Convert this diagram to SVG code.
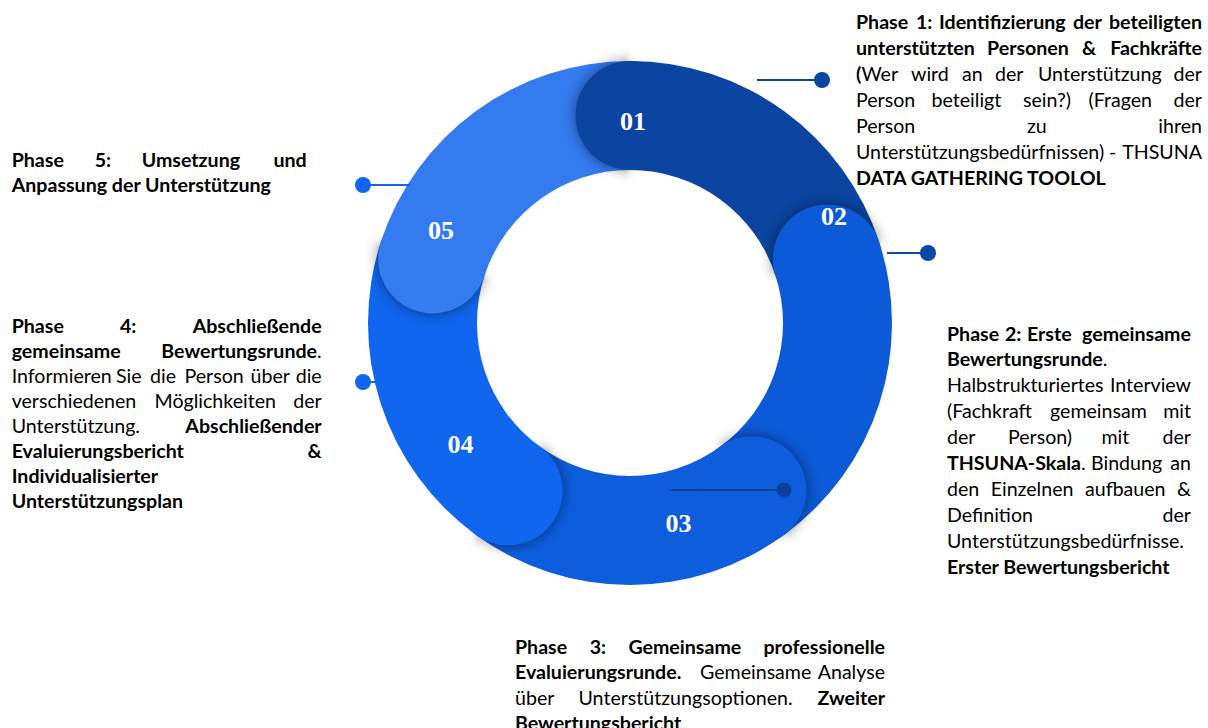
<svg xmlns="http://www.w3.org/2000/svg" width="1208" height="728" viewBox="0 0 1208 728">
<style>
.t{font-family:Lato,"Liberation Sans",sans-serif;font-size:19.6px;fill:#000}
.b{font-weight:700}
.e{text-anchor:end}
.num{font-family:"Liberation Serif","Times New Roman",serif;font-weight:700;font-size:26px;fill:#fff;text-anchor:middle}
.sh{fill:#000;opacity:.42;filter:url(#blur)}
.mk{fill:#fff;filter:url(#mb)}
</style>
<defs>
<filter id="blur" x="-50%" y="-50%" width="200%" height="200%"><feGaussianBlur stdDeviation="6.5"/></filter>
<filter id="mb" x="-20%" y="-20%" width="140%" height="140%"><feGaussianBlur stdDeviation="3"/></filter>
<mask id="m1" maskUnits="userSpaceOnUse" x="0" y="0" width="1208" height="728"><rect class="mk" x="0" y="-320" width="420" height="320" transform="translate(630,323) rotate(-90)"/></mask>
<mask id="m2" maskUnits="userSpaceOnUse" x="0" y="0" width="1208" height="728"><rect class="mk" x="0" y="-320" width="420" height="320" transform="translate(630,323) rotate(-18)"/></mask>
<mask id="m3" maskUnits="userSpaceOnUse" x="0" y="0" width="1208" height="728"><rect class="mk" x="0" y="-320" width="420" height="320" transform="translate(630,323) rotate(54)"/></mask>
<mask id="m4" maskUnits="userSpaceOnUse" x="0" y="0" width="1208" height="728"><rect class="mk" x="0" y="-320" width="420" height="320" transform="translate(630,323) rotate(126)"/></mask>
<mask id="m5" maskUnits="userSpaceOnUse" x="0" y="0" width="1208" height="728"><rect class="mk" x="0" y="-320" width="420" height="320" transform="translate(630,323) rotate(198)"/></mask>
<clipPath id="clip4"><rect x="0" y="300" width="340" height="211"/></clipPath>
</defs>

<g id="ring">
<path d="M630,61 A262,262 0 0 1 879.18,242.04 L775.51,275.72 A153,153 0 0 0 630,170 Z" fill="#0B45A1"/>
<path d="M879.18,242.04 A262,262 0 0 1 784,534.96 L719.93,446.78 A153,153 0 0 0 775.51,275.72 Z" fill="#0C5AD7"/>
<path d="M784,534.96 A262,262 0 0 1 476,534.96 L540.07,446.78 A153,153 0 0 0 719.93,446.78 Z" fill="#0D5DDC"/>
<path d="M476,534.96 A262,262 0 0 1 380.82,242.04 L484.49,275.72 A153,153 0 0 0 540.07,446.78 Z" fill="#1066EE"/>
<path d="M380.82,242.04 A262,262 0 0 1 630,61 L630,170 A153,153 0 0 0 484.49,275.72 Z" fill="#347BF0"/>
</g>

<g id="node-01">
<g mask="url(#m1)"><circle class="sh" cx="630" cy="115.5" r="55"/></g>
<circle cx="630" cy="115.5" r="54.5" fill="#0B45A1"/>
<text class="num" x="633" y="130">01</text>
<text class="t b" y="28.5"><tspan x="856">Phase</tspan><tspan x="916">1:</tspan><tspan x="939">Identifizierung</tspan><tspan x="1073">der</tspan></text>
<text class="t b e" x="1202" y="28.5">beteiligten</text>
<text class="t b" y="54.6"><tspan x="856">unterstützten</tspan><tspan x="987">Personen</tspan><tspan x="1082">&amp;</tspan></text>
<text class="t b e" x="1202" y="54.6">Fachkräfte</text>
<text class="t" y="80.7"><tspan x="856" class="b">(</tspan><tspan>Wer</tspan><tspan x="911">wird</tspan><tspan x="962">an</tspan><tspan x="995">der</tspan><tspan x="1038">Unterstützung</tspan></text>
<text class="t e" x="1202" y="80.7">der</text>
<text class="t" y="106.8"><tspan x="856">Person</tspan><tspan x="931.5">beteiligt</tspan><tspan x="1023">sein?)</tspan><tspan x="1088.5">(Fragen</tspan></text>
<text class="t e" x="1202" y="106.8">der</text>
<text class="t" y="132.9"><tspan x="856">Person</tspan><tspan x="1027">zu</tspan></text>
<text class="t e" x="1202" y="132.9">ihren</text>
<text class="t" y="159"><tspan x="856">Unterstützungsbedürfnissen)</tspan><tspan x="1109">-</tspan></text>
<text class="t e" x="1202" y="159">THSUNA</text>
<text class="t b" x="856" y="185.1">DATA GATHERING TOOLOL</text>
</g>

<g id="node-02">
<g mask="url(#m2)"><circle class="sh" cx="827.34" cy="258.88" r="55"/></g>
<circle cx="827.34" cy="258.88" r="54.5" fill="#0C5AD7"/>
<text class="num" x="834" y="225">02</text>
<text class="t b" y="340.5"><tspan x="947">Phase</tspan><tspan x="1005">2:</tspan><tspan x="1027">Erste</tspan></text>
<text class="t b e" x="1191" y="340.5">gemeinsame</text>
<text class="t" x="947" y="366.4"><tspan class="b">Bewertungsrunde</tspan>.</text>
<text class="t" x="947" y="392.3">Halbstrukturiertes</text>
<text class="t e" x="1191" y="392.3">Interview</text>
<text class="t" y="418.2"><tspan x="947">(Fachkraft</tspan><tspan x="1050">gemeinsam</tspan></text>
<text class="t e" x="1191" y="418.2">mit</text>
<text class="t" y="444.1"><tspan x="947">der</tspan><tspan x="1008">Person)</tspan><tspan x="1101.5">mit</tspan></text>
<text class="t e" x="1191" y="444.1">der</text>
<text class="t" y="470"><tspan x="947" class="b">THSUNA-Skala</tspan><tspan>.</tspan><tspan x="1091">Bindung</tspan></text>
<text class="t e" x="1191" y="470">an</text>
<text class="t" y="495.9"><tspan x="947">den</tspan><tspan x="990.7">Einzelnen</tspan><tspan x="1085">aufbauen</tspan></text>
<text class="t e" x="1191" y="495.9">&amp;</text>
<text class="t" x="947" y="521.8">Definition</text>
<text class="t e" x="1191" y="521.8">der</text>
<text class="t" x="947" y="547.7">Unterstützungsbedürfnisse.</text>
<text class="t b" x="947" y="573.6">Erster Bewertungsbericht</text>
</g>

<g id="node-03">
<g mask="url(#m3)"><circle class="sh" cx="751.96" cy="490.87" r="55"/></g>
<circle cx="751.96" cy="490.87" r="54.5" fill="#0D5DDC"/>
<text class="num" x="678.5" y="532">03</text>
<text class="t b" y="653.5"><tspan x="515">Phase</tspan><tspan x="589.7">3:</tspan><tspan x="628.4">Gemeinsame</tspan></text>
<text class="t b e" x="885" y="653.5">professionelle</text>
<text class="t" y="679"><tspan x="515" class="b">Evaluierungsrunde.</tspan><tspan x="700">Gemeinsame</tspan></text>
<text class="t e" x="885" y="679">Analyse</text>
<text class="t" y="704.5"><tspan x="515">über</tspan><tspan x="578.5">Unterstützungsoptionen.</tspan></text>
<text class="t b e" x="885" y="704.5">Zweiter</text>
<text class="t b" x="515" y="730">Bewertungsbericht</text>
</g>

<g id="node-04">
<g mask="url(#m4)"><circle class="sh" cx="508.04" cy="490.87" r="55"/></g>
<circle cx="508.04" cy="490.87" r="54.5" fill="#1066EE"/>
<text class="num" x="460.5" y="453">04</text>
<g clip-path="url(#clip4)">
<text class="t b" y="333"><tspan x="11.7">Phase</tspan><tspan x="120">4:</tspan></text>
<text class="t b e" x="321.7" y="333">Abschließende</text>
<text class="t b" x="11.7" y="358">gemeinsame</text>
<text class="t e" x="321.7" y="358"><tspan class="b">Bewertungsrunde</tspan>.</text>
<text class="t" y="383"><tspan x="11.7">Informieren</tspan><tspan x="116">Sie</tspan><tspan x="150">die</tspan><tspan x="184.5">Person</tspan><tspan x="250.5">über</tspan></text>
<text class="t e" x="321.7" y="383">die</text>
<text class="t" y="408"><tspan x="11.7">verschiedenen</tspan><tspan x="154.5">Möglichkeiten</tspan></text>
<text class="t e" x="321.7" y="408">der</text>
<text class="t" x="11.7" y="433">Unterstützung.</text>
<text class="t b e" x="321.7" y="433">Abschließender</text>
<text class="t b" x="11.7" y="458">Evaluierungsbericht</text>
<text class="t b e" x="321.7" y="458">&amp;</text>
<text class="t b" x="11.7" y="483">Individualisierter</text>
<text class="t b" x="11.7" y="508">Unterstützungsplan</text>
</g>
</g>

<g id="node-05">
<g mask="url(#m5)"><circle class="sh" cx="432.66" cy="258.88" r="55"/></g>
<circle cx="432.66" cy="258.88" r="54.5" fill="#347BF0"/>
<text class="num" x="441" y="239">05</text>
<text class="t b" y="166.7"><tspan x="11.7">Phase</tspan><tspan x="94.7">5:</tspan><tspan x="141.7">Umsetzung</tspan></text>
<text class="t b e" x="306.7" y="166.7">und</text>
<text class="t b" x="11.7" y="192">Anpassung der Unterstützung</text>
</g>

<g id="connectors" stroke-width="2">
<line x1="757" y1="80" x2="822" y2="80" stroke="#0B45A1"/>
<circle cx="822" cy="80" r="8" fill="#0B45A1"/>
<line x1="887" y1="253" x2="928" y2="253" stroke="#0B47A6"/>
<circle cx="928" cy="253" r="8" fill="#0B47A6"/>
<line x1="671" y1="490" x2="784" y2="490" stroke="#0A3F9A"/>
<circle cx="784" cy="490" r="7.5" fill="#0A3F9A"/>
<line x1="363" y1="382" x2="376" y2="382" stroke="#1066EE"/>
<circle cx="363" cy="382" r="8" fill="#1066EE"/>
<line x1="363" y1="185" x2="410" y2="185" stroke="#1066EE"/>
<circle cx="363" cy="185" r="8" fill="#1066EE"/>
</g>
</svg>
